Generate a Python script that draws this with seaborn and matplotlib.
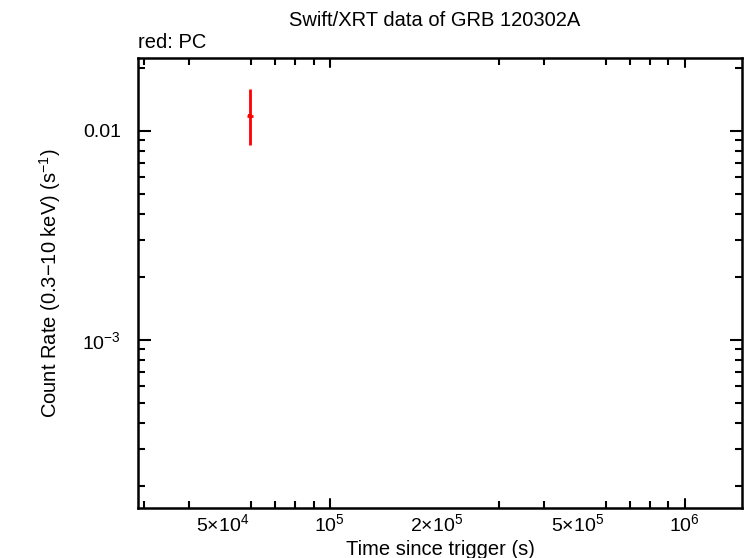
import matplotlib
matplotlib.use("Agg")
import matplotlib.pyplot as plt
import seaborn as sns
import pandas as pd
import numpy as np
from matplotlib.ticker import FixedLocator, NullFormatter

sns.set_style("ticks")
plt.rcParams['font.family'] = ['Liberation Sans', 'DejaVu Sans']
plt.rcParams['text.color'] = 'black'
plt.rcParams['axes.labelcolor'] = 'black'
plt.rcParams['xtick.color'] = 'black'
plt.rcParams['ytick.color'] = 'black'
plt.rcParams['mathtext.fontset'] = 'custom'
plt.rcParams['mathtext.rm'] = 'Liberation Sans'
plt.rcParams['mathtext.it'] = 'Liberation Sans:italic'

# data (PC mode)
time = [5.95e4]
time_err_lo = [1.2e3]
time_err_hi = [1.4e3]
rate = [0.0118]
rate_err_lo = [0.0032]
rate_err_hi = [0.0041]

xticks_long = [1e5, 1e6]
xticks = [5e4, 1e5, 2e5, 5e5, 1e6]
xticklabels = [r"5$\times$10$^4$", r"10$^5$", r"2$\times$10$^5$", r"5$\times$10$^5$", r"10$^6$"]
xminor = [3e4, 4e4, 5e4, 6e4, 7e4, 8e4, 9e4, 2e5, 3e5, 4e5, 5e5, 6e5, 7e5, 8e5, 9e5]
yticks = [1e-3, 1e-2]
yticklabels = [r"10$^{-3}$", "0.01"]
yminor = [2e-4, 3e-4, 4e-4, 5e-4, 6e-4, 7e-4, 8e-4, 9e-4,
          2e-3, 3e-3, 4e-3, 5e-3, 6e-3, 7e-3, 8e-3, 9e-3, 2e-2]

df = pd.DataFrame({"time": time, "rate": rate})

fig = plt.figure(figsize=(7.46, 5.58), dpi=100)
ax = fig.add_axes([138/746, 1 - 508/558, (742-138)/746, (508-58)/558])

ax.errorbar(time, rate, xerr=[time_err_lo, time_err_hi], yerr=[rate_err_lo, rate_err_hi],
            fmt='none', ecolor='#ff0000', elinewidth=2, capsize=0)
sns.scatterplot(data=df, x="time", y="rate", ax=ax, color='#ff0000', s=6, marker='s',
                edgecolor='none', legend=False)

ax.set_xscale('log')
ax.set_yscale('log')
ax.set_xlim(2.88e4, 1.45e6)
ax.set_ylim(1.57e-4, 0.0223)

# x: only decades get long ticks; labelled 5e4/2e5/5e5 share short ticks
ax.xaxis.set_major_locator(FixedLocator(xticks))
ax.set_xticklabels(xticklabels)
ax.xaxis.set_minor_locator(FixedLocator(xminor))
ax.xaxis.set_minor_formatter(NullFormatter())
ax.yaxis.set_major_locator(FixedLocator(yticks))
ax.set_yticklabels(yticklabels)
ax.yaxis.set_minor_locator(FixedLocator(yminor))
ax.yaxis.set_minor_formatter(NullFormatter())

ax.tick_params(which='both', direction='in', top=True, right=True, labelsize=14, width=1.5)
ax.tick_params(axis='x', which='major', length=0, pad=4)
ax.tick_params(axis='y', which='major', length=9, pad=12)
ax.tick_params(which='minor', length=5)
for x in xticks_long:
    ax.axvline(x, ymin=0, ymax=9/450, color='black', lw=1.5)
    ax.axvline(x, ymin=1 - 9/450, ymax=1, color='black', lw=1.5)

for spine in ax.spines.values():
    spine.set_linewidth(1.8)
    spine.set_color('black')

ax.set_xlabel("Time since trigger (s)", fontsize=14.5, labelpad=3)
ax.set_ylabel(r"Count Rate (0.3$-$10 keV) (s$^{-1}$)", fontsize=14.5, labelpad=14)
fig.text(435/746, 1 - 20/558, "Swift/XRT data of GRB 120302A", ha='center', va='center', fontsize=14.5)
fig.text(138/746, 1 - 43/558, "red: PC", ha='left', va='center', fontsize=14.5)

fig.savefig("out.png", dpi=100)
